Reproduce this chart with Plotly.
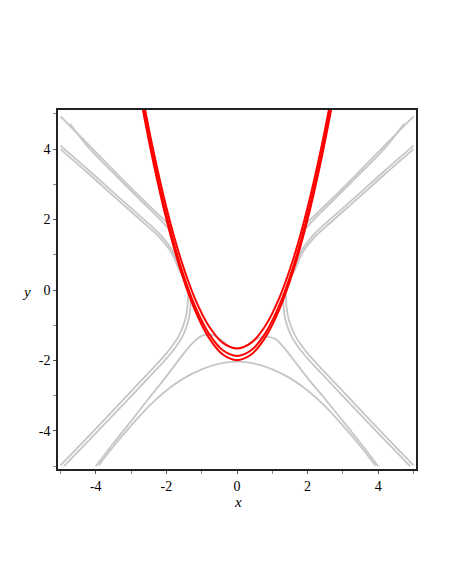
import plotly.graph_objects as go

# ---------------- data ----------------
# grey solution curves (each visible band is a pair of close lines)
gA1_x = [-5.0, -4.2, -3.4, -2.7, -2.2, -1.95, -1.85]
gA1_y = [4.93, 4.12, 3.30, 2.60, 2.12, 1.87, 1.75]
gA2_x = [-4.73, -4.2, -3.4, -2.7, -2.2, -1.92, -1.82]
gA2_y = [4.72, 4.04, 3.22, 2.52, 2.03, 1.72, 1.60]
gB1_x = [-5.0, -4.2, -3.4, -2.7, -2.2, -1.85, -1.65, -1.55]
gB1_y = [4.10, 3.40, 2.68, 2.06, 1.60, 1.15, 0.70, 0.45]
gB2_x = [-5.0, -4.2, -3.4, -2.7, -2.2, -1.85, -1.65, -1.50]
gB2_y = [4.00, 3.30, 2.58, 1.96, 1.50, 1.05, 0.60, 0.30]
gL1_x = [-5.0, -4.2, -3.4, -2.6, -2.0, -1.65, -1.47, -1.40, -1.39]
gL1_y = [-4.98, -4.15, -3.30, -2.45, -1.80, -1.30, -0.85, -0.45, -0.15]
gL2_x = [-4.90, -4.10, -3.30, -2.50, -1.90, -1.55, -1.38, -1.32, -1.31]
gL2_y = [-5.0, -4.17, -3.33, -2.48, -1.83, -1.33, -0.88, -0.50, -0.22]
gM_x = [-4.0, -3.5, -3.0, -2.5, -2.0, -1.6, -1.3, -1.05, -0.85, -0.65, -0.42, -0.25]
gM_y = [-5.0, -4.35, -3.72, -3.08, -2.45, -1.92, -1.55, -1.33, -1.26, -1.29, -1.43, -1.60]
gV_x = [-3.92, -3.5, -3.0, -2.5, -2.0, -1.5, -1.0, -0.5, 0.0, 0.5, 1.0, 1.5, 2.0, 2.5, 3.0, 3.5, 3.92]
gV_y = [-4.98, -4.44, -3.85, -3.30, -2.85, -2.50, -2.25, -2.09, -2.03, -2.09, -2.25, -2.50, -2.85, -3.30, -3.85, -4.44, -4.98]

# right-hand side (mirror image)
gA1r_x = [5.0, 4.2, 3.4, 2.7, 2.2, 1.95, 1.85]
gA2r_x = [4.73, 4.2, 3.4, 2.7, 2.2, 1.92, 1.82]
gB1r_x = [5.0, 4.2, 3.4, 2.7, 2.2, 1.85, 1.65, 1.55]
gB2r_x = [5.0, 4.2, 3.4, 2.7, 2.2, 1.85, 1.65, 1.50]
gL1r_x = [5.0, 4.2, 3.4, 2.6, 2.0, 1.65, 1.47, 1.40, 1.39]
gL2r_x = [4.90, 4.10, 3.30, 2.50, 1.90, 1.55, 1.38, 1.32, 1.31]
gMr_x = [4.0, 3.5, 3.0, 2.5, 2.0, 1.6, 1.3, 1.1, 0.9, 0.7, 0.45, 0.25]
gMr_y = [-5.0, -4.35, -3.72, -3.10, -2.50, -1.98, -1.60, -1.40, -1.33, -1.34, -1.45, -1.60]

# red curves
red_x = [-2.70, -2.4, -2.0, -1.6, -1.2, -0.8, -0.4, 0.0, 0.4, 0.8, 1.2, 1.6, 2.0, 2.4, 2.70]
r1_y = [5.63, 4.10, 2.34, 0.90, -0.22, -1.02, -1.50, -1.66, -1.50, -1.02, -0.22, 0.90, 2.34, 4.10, 5.63]
r2_y = [5.42, 3.89, 2.13, 0.69, -0.43, -1.23, -1.71, -1.87, -1.71, -1.23, -0.43, 0.69, 2.13, 3.89, 5.42]
r3_y = [5.30, 3.77, 2.01, 0.57, -0.55, -1.35, -1.83, -1.99, -1.83, -1.35, -0.55, 0.57, 2.01, 3.77, 5.30]

tick_vals = [-4, -2, 0, 2, 4]
tick_text = ["-4", "-2", "0", "2", "4"]
minor_vals = [-5, -3, -1, 1, 3, 5]

GREY = "#c6c6c6"
RED = "#ff0000"

fig = go.Figure()

grey_curves = [
    (gA1_x, gA1_y), (gA2_x, gA2_y), (gB1_x, gB1_y), (gB2_x, gB2_y),
    (gL1_x, gL1_y), (gL2_x, gL2_y), (gM_x, gM_y), (gV_x, gV_y),
    (gA1r_x, gA1_y), (gA2r_x, gA2_y), (gB1r_x, gB1_y), (gB2r_x, gB2_y),
    (gL1r_x, gL1_y), (gL2r_x, gL2_y), (gMr_x, gMr_y),
]
for cx, cy in grey_curves:
    fig.add_trace(go.Scatter(x=cx, y=cy, mode="lines",
                             line=dict(color=GREY, width=1.8, shape="spline", smoothing=1.0),
                             hoverinfo="skip", showlegend=False))

for ry in (r1_y, r2_y, r3_y):
    fig.add_trace(go.Scatter(x=red_x, y=ry, mode="lines",
                             line=dict(color=RED, width=2, shape="spline", smoothing=1.0),
                             hoverinfo="skip", showlegend=False))

axis_common = dict(
    showgrid=False, zeroline=False, showline=True, linecolor="#222222", linewidth=1.5,
    mirror=True, ticks="outside", ticklen=3, tickcolor="#555555", tickwidth=1,
    tickvals=tick_vals, ticktext=tick_text,
    tickfont=dict(family="Liberation Serif", size=14, color="black"),
    minor=dict(tickvals=minor_vals, ticks="outside", ticklen=3, tickcolor="#888888"),
)

fig.update_layout(
    width=450, height=582,
    margin=dict(l=50, r=42, t=102, b=121),
    paper_bgcolor="white", plot_bgcolor="white",
    xaxis=dict(range=[-5.07, 5.07], **axis_common),
    yaxis=dict(range=[-5.08, 5.11], **axis_common),
    annotations=[
        dict(text="<i>x</i>", xref="paper", yref="paper", x=0.502, y=-0.093,
             xanchor="center", yanchor="middle",
             showarrow=False, font=dict(family="Liberation Serif", size=15, color="black")),
        dict(text="<i>y</i>", xref="paper", yref="paper", x=-0.087, y=0.493,
             xanchor="center", yanchor="middle",
             showarrow=False, font=dict(family="Liberation Serif", size=15, color="black")),
    ],
)

fig.write_html("out.html")
